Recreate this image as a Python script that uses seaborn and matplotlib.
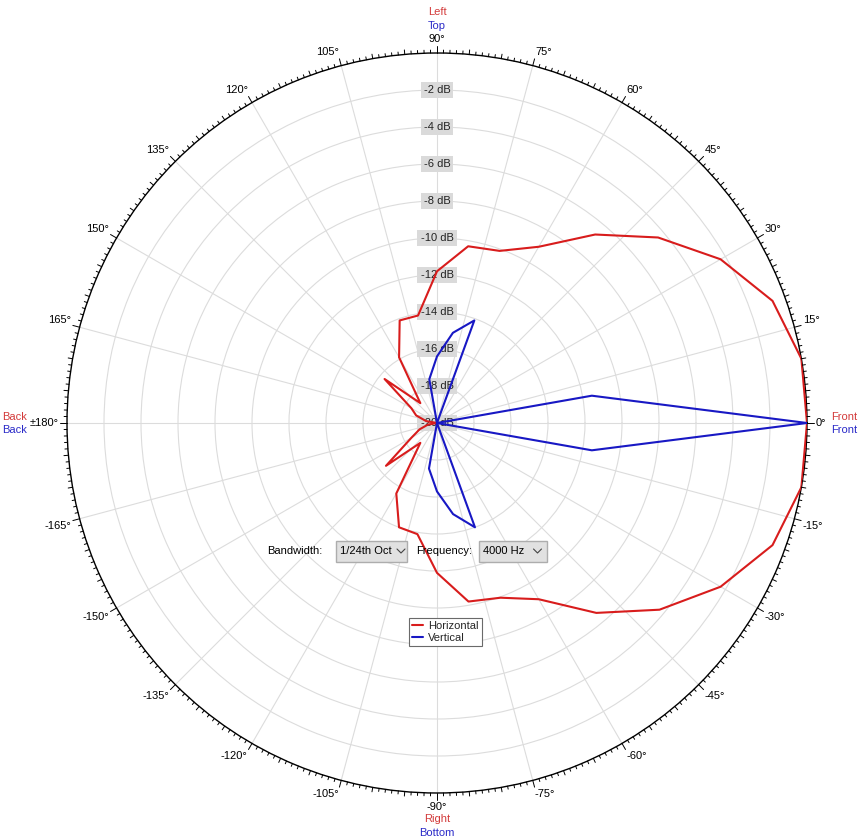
import matplotlib
matplotlib.use("Agg")
import matplotlib.pyplot as plt
import numpy as np
import pandas as pd
import seaborn as sns
from matplotlib.patches import Rectangle
from matplotlib.lines import Line2D

# Polar response data (angle in degrees, level in dB)
angles = [-180, -170, -160, -150, -140, -130, -120, -110, -100, -90,
          -80, -70, -60, -50, -40, -30, -20, -10, 0,
          10, 20, 30, 40, 50, 60, 70, 80, 90,
          100, 110, 120, 130, 140, 150, 160, 170, 180]
horizontal_db = [-20.0, -19.5, -19.0, -18.4, -16.4, -18.6, -15.6, -14.0, -13.9, -11.9,
                 -10.2, -9.95, -9.0, -6.6, -4.3, -2.3, -0.7, 0.0, 0.0,
                 0.0, -0.7, -2.3, -4.4, -6.7, -9.0, -10.1, -10.3, -11.8,
                 -14.1, -14.1, -15.9, -18.6, -16.3, -18.4, -18.8, -19.4, -20.0]
vertical_db = [-20.0, -20.0, -20.0, -20.0, -20.0, -20.0, -20.0, -20.0, -17.5, -16.3,
               -15.0, -14.0, -20.0, -20.0, -20.0, -20.0, -20.0, -11.5, 0.0,
               -11.5, -20.0, -20.0, -20.0, -20.0, -20.0, -14.1, -15.05, -16.4,
               -17.6, -20.0, -20.0, -20.0, -20.0, -20.0, -20.0, -20.0, -20.0]
ring_levels = [-2, -4, -6, -8, -10, -12, -14, -16, -18, -20]
angle_ticks = list(range(0, 360, 15))

RED = "#d81c1c"
BLUE = "#1818c4"
RED_TXT = "#d33a3a"
BLUE_TXT = "#2a2ac8"

sns.set_style("white")
plt.rcParams["font.family"] = ["Liberation Sans", "DejaVu Sans"]
plt.rcParams["font.size"] = 8

W, H = 863, 840
fig = plt.figure(figsize=(W / 100, H / 100), dpi=100)
fig.patch.set_facecolor("white")
ax = fig.add_axes([67 / W, 47 / H, 740 / W, 740 / H], projection="polar")
ax.set_facecolor("white")

df = pd.DataFrame({
    "theta": np.deg2rad(angles),
    "Horizontal": horizontal_db,
    "Vertical": vertical_db,
})

# grid
ax.set_xticks(np.deg2rad(angle_ticks))
ax.set_xticklabels([])
ax.set_yticks(ring_levels[:-1])
ax.set_yticklabels([])
ax.tick_params(axis="both", length=0)
ax.grid(True, color="#dcdcdc", lw=0.8)
ax.spines["polar"].set_color("black")
ax.spines["polar"].set_linewidth(1.0)

# outer tick marks (1 deg / 5 deg / 15 deg)
px = 20 / 370
for d in range(360):
    if d % 15 == 0:
        ln = 7 * px
    elif d % 5 == 0:
        ln = 4.5 * px
    else:
        ln = 3 * px
    ax.plot([np.deg2rad(d), np.deg2rad(d)], [0, ln], color="black", lw=0.7,
            clip_on=False, zorder=5)

# dB labels along 90 deg
for lv in ring_levels:
    ax.text(np.pi / 2, lv, f"{lv} dB", ha="center", va="center", fontsize=8,
            color="#222222", zorder=2,
            bbox=dict(facecolor="#dadada", edgecolor="none", pad=2.2))

# curves
sns.lineplot(data=df, x="theta", y="Horizontal", ax=ax, color=RED, lw=1.5,
             sort=False, estimator=None, label="Horizontal", zorder=3)
sns.lineplot(data=df, x="theta", y="Vertical", ax=ax, color=BLUE, lw=1.5,
             sort=False, estimator=None, label="Vertical", zorder=3)
ax.set_xlabel("")
ax.set_ylabel("")
ax.set_rlim(-20, 0)

# angle labels, anchored just past the tick ends
for d in angle_ticks:
    v = d if d <= 180 else d - 360
    lab = "±180°" if v == 180 else f"{v}°"
    t = np.deg2rad(d)
    c, s = np.cos(t), np.sin(t)
    ha = "left" if c > 0.01 else ("right" if c < -0.01 else "center")
    va = "bottom" if s > 0.01 else ("top" if s < -0.01 else "center")
    pad = 8.5
    ax.annotate(lab, xy=(t, 0), xytext=(pad * c, pad * s),
                textcoords="offset pixels", ha=ha, va=va,
                fontsize=8, color="black", annotation_clip=False)

def ftext(x, y, s, color, ha="center"):
    fig.text(x / W, 1 - y / H, s, color=color, ha=ha, va="center", fontsize=8)

ftext(437, 12, "Left", RED_TXT)
ftext(437, 26, "Top", BLUE_TXT)
ftext(831, 416.5, "Front", RED_TXT, ha="left")
ftext(831, 430.5, "Front", BLUE_TXT, ha="left")
ftext(2, 416.5, "Back", RED_TXT, ha="left")
ftext(2, 430.5, "Back", BLUE_TXT, ha="left")
ftext(437, 819, "Right", RED_TXT)
ftext(437, 833, "Bottom", BLUE_TXT)

# bandwidth / frequency controls
def combo(x0, x1, text, cx):
    fig.patches.append(Rectangle((x0 / W, 1 - 561.5 / H), (x1 - x0) / W, 20.5 / H,
                                 transform=fig.transFigure, facecolor="#e1e1e1",
                                 edgecolor="#adadad", lw=1, zorder=6))
    fig.text((x0 + 4) / W, 1 - 551 / H, text, ha="left", va="center",
             fontsize=8, color="black", zorder=7)
    fig.lines.append(Line2D([(cx - 4) / W, cx / W, (cx + 4) / W],
                            [1 - 549 / H, 1 - 553 / H, 1 - 549 / H],
                            transform=fig.transFigure, color="#444444",
                            lw=0.8, zorder=7))

ftext(267, 551, "Bandwidth:", "black", ha="left")
combo(336, 407, "1/24th Oct", 401)
ftext(416.5, 551, "Frequency:", "black", ha="left")
combo(479, 547, "4000 Hz", 537.5)

leg = ax.legend(loc="upper left", bbox_to_anchor=(408.5 / W, 1 - 617.5 / H),
                bbox_transform=fig.transFigure, fontsize=8, frameon=True,
                fancybox=False, edgecolor="#6a6a6a", framealpha=1,
                handlelength=1.0, handletextpad=0.45, labelspacing=0.2,
                borderpad=0.3, borderaxespad=0)
leg.get_frame().set_linewidth(0.8)

fig.savefig("out.png", dpi=100)
